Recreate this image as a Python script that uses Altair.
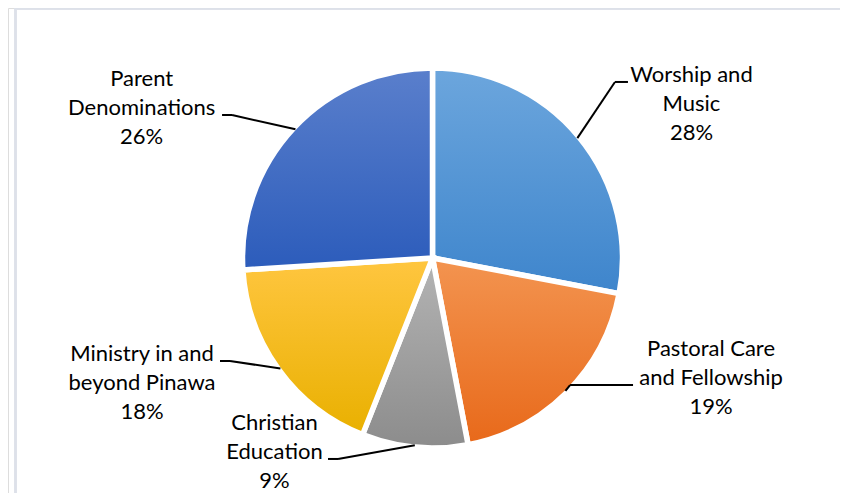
import altair as alt
import pandas as pd

# ---- data ----
categories = ["Worship and Music", "Pastoral Care and Fellowship", "Christian Education",
              "Ministry in and beyond Pinawa", "Parent Denominations"]
label_line1 = ["Worship and", "Pastoral Care", "Christian", "Ministry in and", "Parent"]
label_line2 = ["Music", "and Fellowship", "Education", "beyond Pinawa", "Denominations"]
values = [28, 19, 9, 18, 26]

df = pd.DataFrame({
    "category": categories,
    "l1": label_line1,
    "l2": label_line2,
    "value": values,
    "order": list(range(len(categories))),
})

# ---- style / layout ----
W, H = 832, 485
CX, CY = 424.5, 250          # pie centre inside the view
R_OUT = 190                  # outer radius of the slices
R_LEAD = 188                 # where leader lines start
FONT = "Lato"
FS = 22
LH = 28.8

gradients = {
    "Worship and Music": ("#6ca6dd", "#3e85cc"),
    "Pastoral Care and Fellowship": ("#f39450", "#e8691a"),
    "Christian Education": ("#b4b4b4", "#8c8c8c"),
    "Ministry in and beyond Pinawa": ("#ffc640", "#e9b000"),
    "Parent Denominations": ("#5a7fcc", "#2c5cbb"),
}

# leader/label layout: elbow offset from start, horizontal stub, text offset, attach line index
layout = {
    "Worship and Music": dict(edx=37.6, edy=-56.2, stub=13, tdx=63.5, k=0),
    "Pastoral Care and Fellowship": dict(edx=4.6, edy=-5.9, stub=63, tdx=78, k=1),
    "Christian Education": dict(edx=-76.8, edy=13.8, stub=-10, tdx=-53.5, k=1),
    "Ministry in and beyond Pinawa": dict(edx=-50.4, edy=-7.5, stub=-10, tdx=-78, k=0),
    "Parent Denominations": dict(edx=-63.4, edy=-14.3, stub=-10, tdx=-80.4, k=1),
}


def grad(c):
    top, bot = gradients[c]
    return {"gradient": "linear", "x1": 0, "y1": 0, "x2": 0, "y2": 1,
            "stops": [{"offset": 0, "color": top}, {"offset": 1, "color": bot}]}


# colour condition chain
color = alt.when(alt.datum.category == categories[0]).then(alt.value(grad(categories[0])))
for c in categories[1:-1]:
    color = color.when(alt.datum.category == c).then(alt.value(grad(c)))
color = color.otherwise(alt.value(grad(categories[-1])))

pie = alt.Chart(df).mark_arc(outerRadius=R_OUT, stroke="white", strokeWidth=5.5).encode(
    theta=alt.Theta("value:Q", stack=True),
    order=alt.Order("order:Q"),
    color=color,
    x=alt.value(CX),
    y=alt.value(CY),
)

base = (
    alt.Chart(df)
    .transform_joinaggregate(total="sum(value)")
    .transform_window(cum="sum(value)", sort=[alt.SortField("order")], frame=[None, 0])
    .transform_calculate(
        mid="2*PI*(datum.cum - datum.value/2)/datum.total",
        pct="format(datum.value/datum.total, '.0%')",
    )
    .transform_calculate(
        sx=f"{CX} + {R_LEAD}*sin(datum.mid)",
        sy=f"{CY} - {R_LEAD}*cos(datum.mid)",
        label="datum.l1 + '\\n' + datum.l2 + '\\n' + datum.pct",
    )
)

layers = [pie]
for c in categories:
    L = layout[c]
    b = base.transform_filter(alt.datum.category == c).transform_calculate(
        ex=f"datum.sx + ({L['edx']})",
        ey=f"datum.sy + ({L['edy']})",
    ).transform_calculate(
        fx=f"datum.ex + ({L['stub']})",
        tx=f"datum.ex + ({L['stub']}) + ({L['tdx']})",
        ty=f"datum.ey - {L['k']}*{LH}",
    )
    seg1 = b.mark_rule(color="black", strokeWidth=2).encode(
        x=alt.X("sx:Q", scale=None, axis=None),
        y=alt.Y("sy:Q", scale=None, axis=None),
        x2="ex:Q", y2="ey:Q",
    )
    seg2 = b.mark_rule(color="black", strokeWidth=2).encode(
        x=alt.X("ex:Q", scale=None, axis=None),
        y=alt.Y("ey:Q", scale=None, axis=None),
        x2="fx:Q", y2="ey:Q",
    )
    txt = b.mark_text(font=FONT, fontSize=FS, lineHeight=LH, lineBreak="\n",
                      align="center", baseline="alphabetic", color="#000000").encode(
        x=alt.X("tx:Q", scale=None, axis=None),
        y=alt.Y("ty:Q", scale=None, axis=None),
        text="label:N",
    )
    layers += [seg1, seg2, txt]

border_left = alt.Chart(df).mark_rule(color="#dde1e9", strokeWidth=2).encode(
    x=alt.value(7.5), y=alt.value(0), y2=alt.value(H))
border_top = alt.Chart(df).mark_rule(color="#dde1e9", strokeWidth=1.5).encode(
    x=alt.value(7.5), x2=alt.value(W), y=alt.value(0.75))

chart = alt.layer(border_left, border_top, *layers).properties(
    width=W, height=H,
    autosize=alt.AutoSizeParams(type="none"),
    padding=0,
).configure_view(stroke=None).configure(background="white")

chart.save("out.html", embed_options={"renderer": "svg", "actions": False})
